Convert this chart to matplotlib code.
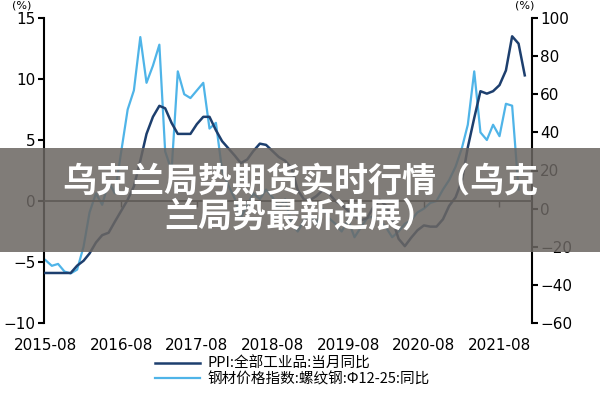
import matplotlib
matplotlib.use("Agg")
import matplotlib.pyplot as plt
from matplotlib.patches import Rectangle
from matplotlib.lines import Line2D
import pandas as pd

plt.rcParams['font.family'] = ['DejaVu Sans', 'Noto Sans CJK SC']

# ---------------- data ----------------
ppi_start = "2015-08-01"
ppi_values = [-5.9, -5.9, -5.9, -5.9, -5.9,
              -5.3, -4.9, -4.3, -3.4, -2.8, -2.6, -1.7, -0.8, 0.1, 1.2, 3.3, 5.5,
              6.9, 7.8, 7.6, 6.4, 5.5, 5.5, 5.5, 6.3, 6.9, 6.9, 5.8, 4.9,
              4.3, 3.7, 3.1, 3.4, 4.1, 4.7, 4.6, 4.1, 3.6, 3.3, 2.7, 0.9,
              0.1, 0.1, 0.4, 0.9, 0.6, 0.0, -0.3, -0.8, -1.2, -1.6, -1.4, -0.5,
              0.1, -0.4, -1.5, -3.1, -3.7, -3.0, -2.4, -2.0, -2.1, -2.1, -1.5, -0.4,
              0.3, 1.7, 4.4, 6.8, 9.0, 8.8, 9.0, 9.5, 10.7, 13.5, 12.9, 10.3]

steel_start = "2015-08-01"
steel_values = [-27, -30, -29, -33, -34,
                -32, -20, -2, 8, 2, 14, 8, 30, 52, 62, 90, 66,
                75, 86, 30, 20, 72, 60, 58, 62, 66, 42, 45, 20,
                12, 5, -5, 2, 8, 5, 10, 6, 0, 5, -8, -12,
                -6, -3, -8, 0, -5, -8, -12, -6, -15, -10, -5, -4,
                -6, -10, -15, -12, -8, -6, -2, 0, 3, 4, 10, 15,
                22, 32, 44, 72, 40, 36, 44, 38, 55, 54, 10]

xtick_labels = ["2015-08", "2016-08", "2017-08", "2018-08", "2019-08", "2020-08", "2021-08"]
ppi_label = "PPI:全部工业品:当月同比"
steel_label = "钢材价格指数:螺纹钢:Φ12-25:同比"
overlay_lines = ["乌克兰局势期货实时行情（乌克", "兰局势最新进展）"]

ppi_dates = pd.date_range(ppi_start, periods=len(ppi_values), freq="MS")
steel_dates = pd.date_range(steel_start, periods=len(steel_values), freq="MS")
xticks = pd.to_datetime(xtick_labels, format="%Y-%m")

# ---------------- figure ----------------
fig = plt.figure(figsize=(6, 4), dpi=100)
ax = fig.add_axes([0.0733, 0.1925, 0.8134, 0.7625])
ax2 = ax.twinx()

navy = "#1d3f6e"
light = "#4fb4e8"

ax.plot(ppi_dates, ppi_values, color=navy, lw=1.8, zorder=3)
ax2.plot(steel_dates, steel_values, color=light, lw=1.6, zorder=2)
ax.set_zorder(ax2.get_zorder() + 1)
ax.patch.set_visible(False)

ax.set_xlim(pd.Timestamp("2015-07-25"), pd.Timestamp("2022-01-05"))
ax.set_ylim(-10, 15)
ax2.set_ylim(-60, 100)
ax.set_yticks([-10, -5, 0, 5, 10, 15])
ax2.set_yticks([-60, -40, -20, 0, 20, 40, 60, 80, 100])

for a in (ax, ax2):
    for s in ("top", "bottom"):
        a.spines[s].set_visible(False)
ax.spines["right"].set_visible(False)
ax2.spines["left"].set_visible(False)
ax.spines["left"].set_linewidth(1.5)
ax2.spines["right"].set_linewidth(1.5)

ax.tick_params(axis="y", direction="out", length=4, width=1.5, labelsize=11, pad=2)
ax2.tick_params(axis="y", direction="out", length=4, width=1.5, labelsize=11, pad=2)

ax.set_xticks(xticks)
ax.set_xticklabels(xtick_labels, fontsize=11)
ax.tick_params(axis="x", length=0, pad=11)

# zero line with year ticks
ax.axhline(0, color="#222222", lw=1.3, zorder=4)
sec = ax.secondary_xaxis(0.4)
sec.set_xticks(xticks[1:])
sec.tick_params(axis="x", direction="out", length=4, width=1.0, labelbottom=False,
                colors="#222222")
sec.spines["bottom"].set_visible(False)

fig.text(0.02, 0.999, "(%)", fontsize=8, va="top", ha="left")
fig.text(0.858, 0.999, "(%)", fontsize=8, va="top", ha="left")

handles = [Line2D([], [], color=navy, lw=1.8), Line2D([], [], color=light, lw=1.6)]
fig.legend(handles, [ppi_label, steel_label], loc="upper center",
           bbox_to_anchor=(0.487, 0.108), frameon=False,
           handlelength=3.1, labelspacing=0.1, borderaxespad=0, handletextpad=0.5,
           borderpad=0.0,
           prop={"family": ["Noto Sans CJK SC", "DejaVu Sans"], "size": 10.5})

# overlay banner
band = Rectangle((0, 0.37), 1, 0.26, transform=fig.transFigure,
                 facecolor=(0.42, 0.40, 0.385), alpha=0.86, edgecolor="none", zorder=10)
fig.patches.append(band)
for txt, ypix in zip(overlay_lines, (181, 216)):
    fig.text(0.5, 1 - ypix / 400, txt, ha="center", va="center", color="white",
             fontsize=24.5, fontweight="heavy", family=["Noto Sans CJK SC", "DejaVu Sans"],
             zorder=11)

fig.savefig("out.png", dpi=100)
